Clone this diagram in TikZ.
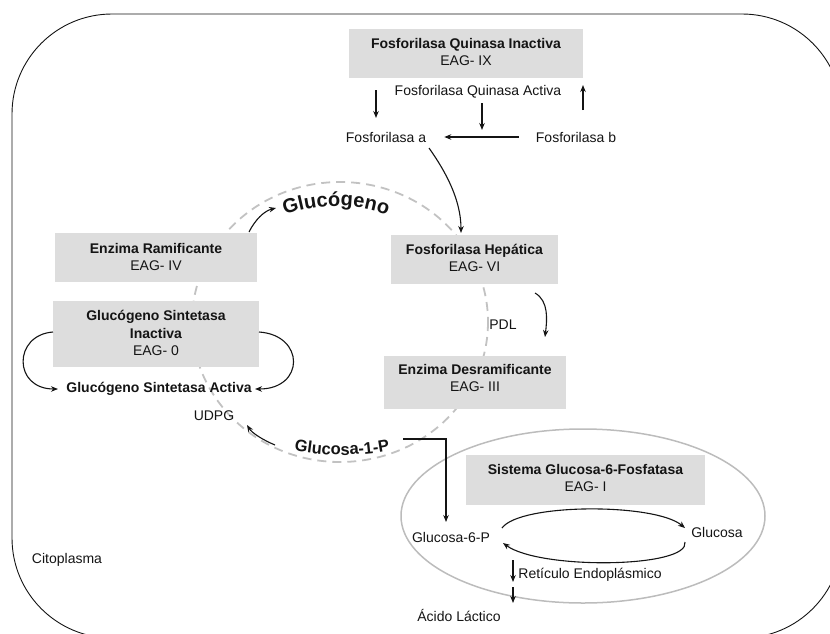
\documentclass[tikz,border=0pt]{standalone}
\usepackage{fontspec}
\setmainfont{Liberation Sans}
\usetikzlibrary{arrows.meta,decorations.text}
\definecolor{boxgray}{RGB}{221,221,221}
\definecolor{dashgray}{RGB}{194,194,194}
\definecolor{ringgray}{RGB}{188,188,188}
\definecolor{ink}{RGB}{20,20,20}

\begin{document}
\begin{tikzpicture}[x=1pt, y=-1pt,
  every node/.style={font=\fontsize{14}{17.5}\selectfont, text=ink, inner sep=0pt},
  enzbox/.style={fill=boxgray, draw=none},
  enztext/.style={align=center},
  boldlbl/.style={font=\fontsize{14}{17.5}\selectfont\bfseries},
  flow/.style={draw=ink, line width=1.1pt, -{Stealth[length=7pt,width=5.5pt]}},
]
\useasboundingbox (0,0) rectangle (830,633);
\clip (0,0) rectangle (830,633);

% cell outline (cytoplasm)
\draw[draw=ink, line width=0.9pt, rounded corners=100pt] (12,14) rectangle (842,638);

% glycogen cycle and endoplasmic reticulum
\draw[dashgray, line width=1.8pt, dash pattern=on 9pt off 6pt] (340,322) ellipse [x radius=148, y radius=140];
\draw[ringgray, line width=1.5pt] (583,516) ellipse [x radius=182, y radius=87];

% enzyme boxes
\node[enzbox, minimum width=234pt, minimum height=49pt] (fqibox) at (466,53.5) {};
\node[enzbox, minimum width=167pt, minimum height=49pt] (fhbox) at (474.5,259.5) {};
\node[enzbox, minimum width=202pt, minimum height=49pt] (erbox) at (156,257.5) {};
\node[enzbox, minimum width=206pt, minimum height=66pt] (gsibox) at (156,334) {};
\node[enzbox, minimum width=182pt, minimum height=53pt] (edbox) at (475,382.5) {};
\node[enzbox, minimum width=239pt, minimum height=50pt] (sgfbox) at (585.5,480) {};

\node[enztext] (fqi) at (466,52) {\textbf{Fosforilasa Quinasa Inactiva}\\EAG- IX};
\node[enztext] (fh) at (474.5,258) {\textbf{Fosforilasa Hepática}\\EAG- VI};
\node[enztext] (er) at (156,257) {\textbf{Enzima Ramificante}\\EAG- IV};
\node[enztext] (gsi) at (156,333) {\textbf{Glucógeno Sintetasa}\\\textbf{Inactiva}\\EAG- 0};
\node[enztext] (ed) at (475,378) {\textbf{Enzima Desramificante}\\EAG- III};
\node[enztext] (sgf) at (585.5,478) {\textbf{Sistema Glucosa-6-Fosfatasa}\\EAG- I};

% plain labels
\node (fqa) at (478,92) {Fosforilasa Quinasa Activa};
\node (fa) at (386,137) {Fosforilasa a};
\node (fb) at (576,137) {Fosforilasa b};
\node[boldlbl] (gsa) at (159,389) {Glucógeno Sintetasa Activa};
\node (udpg) at (214,416) {UDPG};
\node (pdl) at (503,325) {PDL};
\node (g6p) at (451,537) {Glucosa-6-P};
\node (glc) at (717,532) {Glucosa};
\node (re) at (590,575) {Retículo Endoplásmico};
\node (al) at (459,615) {Ácido Láctico};
\node (cito) at (67,560) {Citoplasma};

% curved metabolite names on the cycle
\path[decorate, decoration={text along path, text align=center,
  text={|\fontsize{20}{20}\selectfont\bfseries\color{ink}|Glucógeno}}]
  (272.6,220.1) arc[start angle=245, end angle=295, radius=150];
\path[decorate, decoration={text along path, text align=center,
  text={|\fontsize{16.5}{16.5}\selectfont\bfseries\color{ink}|Glucosa-1-P}}]
  (277.3,446.5) arc[start angle=105, end angle=75, radius=250];

% free ends of the connectors
\coordinate (k1s) at (376,90);   \coordinate (k1e) at (376,118);
\coordinate (k2s) at (583,110);  \coordinate (k2e) at (583,85);
\coordinate (k3s) at (482,103);  \coordinate (k3e) at (482,130);
\coordinate (fas) at (429,148);  \coordinate (fhe) at (461,233);
\coordinate (ers) at (249,232);  \coordinate (glye) at (276,208);
\coordinate (pds) at (535,293);  \coordinate (pde) at (545,337);
\coordinate (gl1s) at (275,445); \coordinate (udpe) at (247,425);
\coordinate (g1s) at (403,439);  \coordinate (g6e) at (446,522);
\coordinate (gsL) at (53,332);   \coordinate (gsaL) at (58,389);
\coordinate (gsR) at (259,332);  \coordinate (gsaR) at (255,389);
\coordinate (cyA) at (502,528);  \coordinate (cyB) at (685,528);
\coordinate (cyC) at (685,542);  \coordinate (cyD) at (503,543);
\coordinate (r1s) at (513,560);  \coordinate (r1e) at (513,582);
\coordinate (r2s) at (513,587);  \coordinate (r2e) at (513,603);

% phosphorylase activation
\draw[flow] (k1s) -- (k1e);
\draw[flow] (k2s) -- (k2e);
\draw[flow] (k3s) -- (k3e);
\draw[flow, shorten <=17pt, shorten >=18pt] (fb.west) -- (fa.east);
\draw[flow] (fas) .. controls (446,172) and (461,200) .. (fhe);

% glycogen synthesis and breakdown
\draw[flow] (ers) .. controls (255,220) and (264,211) .. (glye);
\draw[flow] (pds) .. controls (549,301) and (547,320) .. (pde);
\draw[flow] (gsL) .. controls (13,335) and (13,389) .. (gsaL);
\draw[flow] (gsR) .. controls (305,335) and (305,389) .. (gsaR);
\draw[flow] (gl1s) .. controls (263,440) and (252,433) .. (udpe);
\draw[flow] (g1s) -| (g6e);

% glucose-6-phosphatase cycle
\draw[flow] (cyA) .. controls (520,503) and (655,503) .. (cyB);
\draw[flow] (cyC) .. controls (690,568) and (540,570) .. (cyD);
\draw[flow] (r1s) -- (r1e);
\draw[flow] (r2s) -- (r2e);
\end{tikzpicture}
\end{document}
